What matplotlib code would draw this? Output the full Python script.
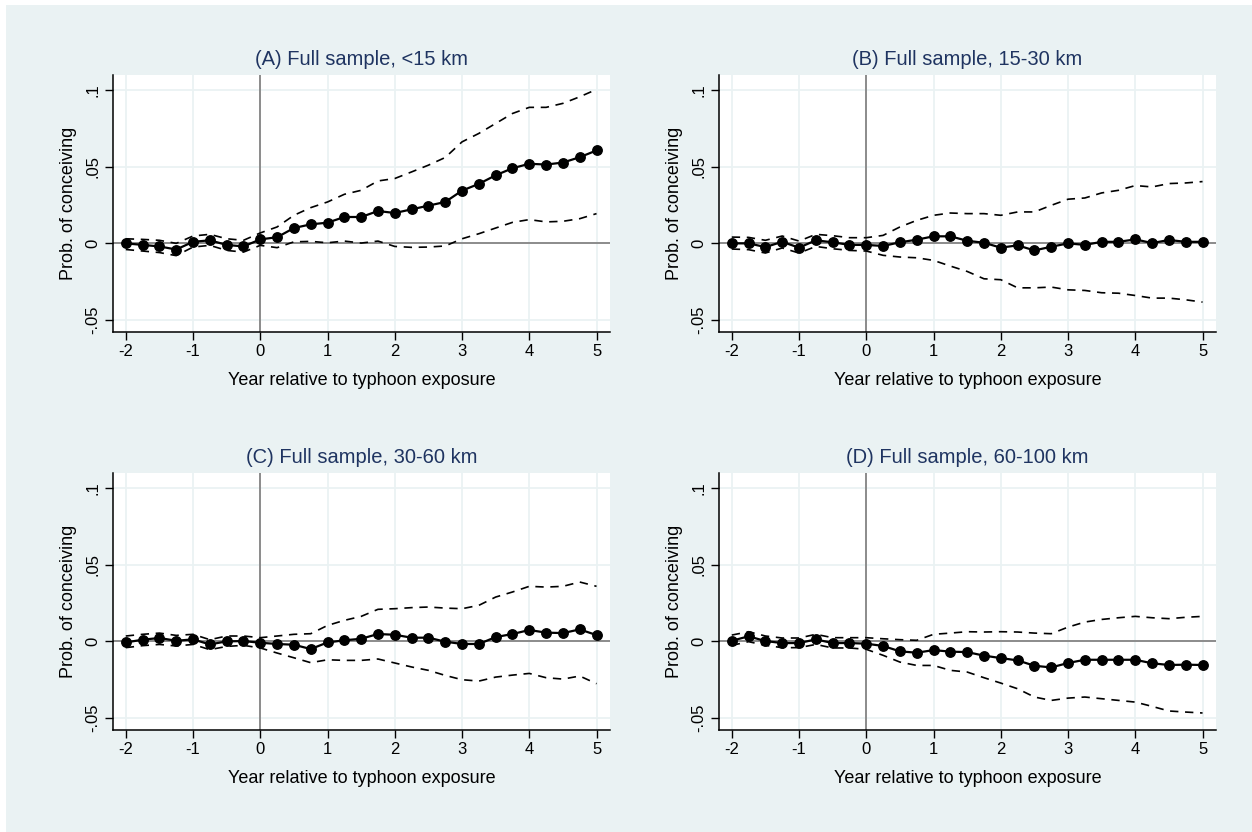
import numpy as np
from matplotlib import pyplot as plt
from matplotlib import rcParams
from matplotlib.patches import Rectangle

rcParams['font.family'] = ['Liberation Sans', 'DejaVu Sans']
rcParams['axes.unicode_minus'] = False

# event time, quarters from -2 to 5
years = np.arange(-2, 5.01, 0.25)

titles = ["(A) Full sample, <15 km", "(B) Full sample, 15-30 km",
          "(C) Full sample, 30-60 km", "(D) Full sample, 60-100 km"]

# (A) <15 km
est_a = [0.0, -0.001, -0.002, -0.004, 0.001, 0.002, -0.001, -0.002, 0.0026, 0.004,
         0.010, 0.0124, 0.0135, 0.0172, 0.0172, 0.0211, 0.0198, 0.0222, 0.0246, 0.027,
         0.0344, 0.0388, 0.0444, 0.049, 0.0519, 0.0514, 0.0527, 0.0562, 0.0606]
hi_a = [0.003, 0.0026, 0.002, 0.0, 0.0048, 0.0059, 0.003, 0.002, 0.0068, 0.0107,
        0.0183, 0.0233, 0.027, 0.032, 0.0346, 0.0407, 0.0423, 0.0466, 0.051, 0.056,
        0.0662, 0.0717, 0.0782, 0.0847, 0.0887, 0.0887, 0.0913, 0.0956, 0.1004]
lo_a = [-0.004, -0.005, -0.006, -0.008, -0.0024, -0.0013, -0.0046, -0.0057, -0.0013, -0.0028,
        0.001, 0.0013, 0.0004, 0.0015, 0.0002, 0.0015, -0.002, -0.0026, -0.0024, -0.0017,
        0.003, 0.0063, 0.010, 0.0137, 0.0155, 0.014, 0.0144, 0.0161, 0.0194]

# (B) 15-30 km
est_b = [0.0, 0.0, -0.0024, 0.001, -0.0028, 0.002, 0.0007, -0.001, -0.001, -0.0017,
         0.0007, 0.0024, 0.0046, 0.0046, 0.0017, 0.0004, -0.0028, -0.0013, -0.0046, -0.0022,
         0.0, -0.001, 0.001, 0.001, 0.0026, 0.0002, 0.0022, 0.001, 0.001]
hi_b = [0.0041, 0.0039, 0.002, 0.0048, 0.0015, 0.0059, 0.005, 0.0037, 0.0037, 0.0052,
        0.0107, 0.015, 0.0183, 0.0198, 0.0194, 0.0194, 0.0183, 0.0205, 0.0205, 0.0248,
        0.0288, 0.0296, 0.0329, 0.0346, 0.0377, 0.0368, 0.039, 0.0394, 0.0403]
lo_b = [-0.0037, -0.0041, -0.0063, -0.003, -0.0063, -0.002, -0.0035, -0.0046, -0.005, -0.0078,
        -0.0089, -0.0094, -0.0111, -0.0148, -0.0183, -0.0231, -0.0237, -0.029, -0.029, -0.0285,
        -0.0303, -0.0307, -0.0322, -0.0325, -0.034, -0.0357, -0.0357, -0.0368, -0.0383]

# (C) 30-60 km
est_c = [-0.0007, 0.0011, 0.0022, 0.0004, 0.0013, -0.002, 0.0, 0.0002, -0.0009, -0.0017,
         -0.0022, -0.005, -0.0007, 0.0007, 0.0017, 0.0048, 0.0043, 0.0024, 0.0024, -0.0002,
         -0.0017, -0.0017, 0.0028, 0.0048, 0.0074, 0.0057, 0.0054, 0.0078, 0.0041]
hi_c = [0.0035, 0.0046, 0.0054, 0.0039, 0.0046, 0.0011, 0.0035, 0.0035, 0.0024, 0.0035,
        0.0046, 0.005, 0.0104, 0.0137, 0.0163, 0.0209, 0.0213, 0.022, 0.0224, 0.0217,
        0.0213, 0.0235, 0.0289, 0.0322, 0.0359, 0.0354, 0.0359, 0.0387, 0.0359]
lo_c = [-0.0041, -0.0028, -0.002, -0.003, -0.002, -0.0054, -0.0033, -0.0026, -0.0043, -0.0076,
        -0.0107, -0.0139, -0.012, -0.0124, -0.0124, -0.0115, -0.0141, -0.0167, -0.0189, -0.0222,
        -0.025, -0.0259, -0.0233, -0.022, -0.0209, -0.0237, -0.0246, -0.0226, -0.0276]

# (D) 60-100 km
est_d = [0.0004, 0.0033, 0.0002, -0.0011, -0.0011, 0.0013, -0.0011, -0.0011, -0.0015, -0.003,
         -0.0065, -0.0074, -0.0057, -0.0067, -0.007, -0.0093, -0.0109, -0.0124, -0.0159, -0.017,
         -0.0141, -0.012, -0.012, -0.012, -0.012, -0.0143, -0.0154, -0.0152, -0.0154]
hi_d = [0.0041, 0.0063, 0.0035, 0.0022, 0.0022, 0.0046, 0.0024, 0.0024, 0.0024, 0.0017,
        0.0011, 0.0007, 0.0046, 0.0054, 0.0063, 0.0061, 0.0063, 0.0061, 0.0054, 0.005,
        0.0093, 0.0126, 0.0143, 0.0154, 0.0163, 0.0154, 0.0148, 0.0157, 0.0163]
lo_d = [-0.0026, -0.0002, -0.0026, -0.0041, -0.0041, -0.002, -0.0043, -0.0043, -0.0052, -0.0091,
        -0.0135, -0.0157, -0.0157, -0.0189, -0.02, -0.0237, -0.0272, -0.0309, -0.0363, -0.0385,
        -0.037, -0.0363, -0.0374, -0.0385, -0.0396, -0.0424, -0.0454, -0.0461, -0.0467]

panels = [(est_a, hi_a, lo_a), (est_b, hi_b, lo_b), (est_c, hi_c, lo_c), (est_d, hi_d, lo_d)]

x_ticks = [-2, -1, 0, 1, 2, 3, 4, 5]
y_ticks = [-0.05, 0, 0.05, 0.1]
y_labels = ["-.05", "0", ".05", ".1"]

BG = '#eaf2f3'
NAVY = '#1f3461'
W, H = 1252, 832

fig = plt.figure(figsize=(W / 100, H / 100), dpi=100, facecolor='white')
# graph region, leaves a thin white strip at top and left
fig.patches.append(Rectangle((6 / W, 0), 1 - 6 / W, 1 - 5 / H, transform=fig.transFigure,
                             facecolor=BG, edgecolor='none', zorder=-10))

# plot regions in pixels: left, top, right, bottom
boxes = [(113, 75, 610, 332), (719, 75, 1216, 332),
         (113, 473, 610, 730), (719, 473, 1216, 730)]

for (l, t, r, b), title, (est, hi, lo) in zip(boxes, titles, panels):
    ax = fig.add_axes([l / W, 1 - b / H, (r - l) / W, (b - t) / H])
    ax.set_facecolor('white')
    for x in x_ticks:
        ax.axvline(x, color=BG, lw=1.3, zorder=0)
    for y in y_ticks:
        ax.axhline(y, color=BG, lw=1.3, zorder=0)
    ax.axhline(0, color='#8c8c8c', lw=1.4, zorder=1)
    ax.axvline(0, color='#8c8c8c', lw=1.4, zorder=1)
    ax.plot(years, hi, color='black', lw=1.2, ls=(0, (5, 4)), zorder=2)
    ax.plot(years, lo, color='black', lw=1.2, ls=(0, (5, 4)), zorder=2)
    ax.plot(years, est, color='black', lw=1.6, marker='o', ms=6.8, zorder=3)
    ax.set_xlim(-2.19, 5.2)
    ax.set_ylim(-0.0578, 0.1098)
    ax.set_xticks(x_ticks)
    ax.set_yticks(y_ticks)
    ax.set_yticklabels(y_labels, rotation=90, va='center')
    ax.tick_params(axis='both', labelsize=12, length=6, width=1, pad=3, colors='black')
    for side in ['top', 'right']:
        ax.spines[side].set_visible(False)
    for side in ['left', 'bottom']:
        ax.spines[side].set_linewidth(1.1)
    ax.set_xlabel("Year relative to typhoon exposure", fontsize=13, labelpad=9)
    ax.set_ylabel("Prob. of conceiving", fontsize=13, labelpad=6)
    ax.set_title(title, color=NAVY, fontsize=14.5, pad=7)

fig.savefig('out.png', dpi=100, facecolor='white')
